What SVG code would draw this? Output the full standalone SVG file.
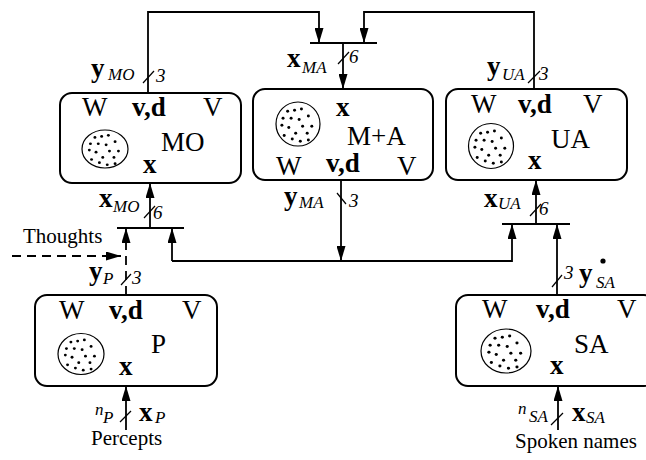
<svg xmlns="http://www.w3.org/2000/svg" xmlns:xlink="http://www.w3.org/1999/xlink" width="646" height="460" viewBox="0 0 646 460">
<style>
text{font-family:"Liberation Serif","Times New Roman",serif;fill:#000}
.box{fill:#fff;stroke:#000;stroke-width:2}
.cell{fill:none;stroke:#000;stroke-width:1.2}
.r{font-size:27px}
.b{font-size:27px;font-weight:bold}
.lb{font-size:27px;font-weight:bold}
.sub{font-size:17px;font-style:italic}
.num{font-size:19px;font-style:italic}
.cap{font-size:21px}
.ln{fill:none;stroke:#000;stroke-width:1.8}
.dash{stroke-dasharray:9 6}
.sl{stroke:#000;stroke-width:1.2}
</style>
<defs>
<marker id="ah" viewBox="0 0 15 9" refX="15" refY="4.5" markerWidth="15" markerHeight="9" markerUnits="userSpaceOnUse" orient="auto">
<path d="M0,0 L15,4.5 L0,9 z" fill="#000"/>
</marker>
<g id="dots" fill="#000">
<circle cx="-9" cy="-11" r="1.3"/><circle cx="-3" cy="-12" r="1.3"/><circle cx="3" cy="-13" r="1.3"/>
<circle cx="-13" cy="-5" r="1.3"/><circle cx="-6" cy="-5" r="1.3"/><circle cx="1" cy="-4" r="1.3"/>
<circle cx="9" cy="-7" r="1.3"/><circle cx="-14" cy="1" r="1.3"/><circle cx="-8" cy="3" r="1.3"/>
<circle cx="12" cy="2" r="1.3"/><circle cx="4" cy="2" r="1.3"/><circle cx="-2" cy="8" r="1.3"/>
<circle cx="8" cy="8" r="1.3"/><circle cx="-12" cy="10" r="1.3"/><circle cx="-5" cy="13" r="1.3"/>
<circle cx="2" cy="15" r="1.3"/><circle cx="9" cy="14" r="1.3"/>
</g>
</defs>

<g id="connectors">
<path class="ln" d="M148,93 V12 H319 V43" marker-end="url(#ah)"/>
<path class="ln" d="M534,90 V12 H364 V43" marker-end="url(#ah)"/>
<line class="ln" x1="310" y1="43" x2="377" y2="43"/>
<path class="ln" d="M343,43 V89" marker-end="url(#ah)"/>
<line class="ln" x1="117" y1="228" x2="184" y2="228"/>
<path class="ln" d="M150,228 V183" marker-end="url(#ah)"/>
<path class="ln dash" d="M126,295 V228" marker-end="url(#ah)"/>
<path class="ln dash" d="M12,256 H121" marker-end="url(#ah)"/>
<path class="ln" d="M172,261 H512 V224" marker-end="url(#ah)"/>
<path class="ln" d="M172,261 V228" marker-end="url(#ah)"/>
<path class="ln" d="M341,180 V261" marker-end="url(#ah)"/>
<line class="ln" x1="502" y1="224" x2="570" y2="224"/>
<path class="ln" d="M536,224 V180" marker-end="url(#ah)"/>
<path class="ln" d="M557,295 V224" marker-end="url(#ah)"/>
<path class="ln" d="M126,430 V386" marker-end="url(#ah)"/>
<path class="ln" d="M558,430 V386" marker-end="url(#ah)"/>
<line class="sl" x1="143" y1="83" x2="154" y2="71"/>
<line class="sl" x1="338" y1="64" x2="349" y2="52"/>
<line class="sl" x1="337" y1="193" x2="346" y2="204"/>
<line class="sl" x1="528" y1="83" x2="540" y2="71"/>
<line class="sl" x1="144" y1="218" x2="155" y2="206"/>
<line class="sl" x1="530" y1="216" x2="541" y2="204"/>
<line class="sl" x1="121" y1="285" x2="131" y2="274"/>
<line class="sl" x1="552" y1="287" x2="562" y2="275"/>
<line class="sl" x1="120" y1="422" x2="131" y2="411"/>
<line class="sl" x1="551" y1="425" x2="563" y2="413"/>
</g>

<g id="labels">
<text><tspan class="lb" x="91" y="77">y</tspan><tspan class="sub" x="108" y="80">MO</tspan></text>
<text class="num" x="156" y="82">3</text>
<text><tspan class="lb" x="287" y="67">x</tspan><tspan class="sub" x="302" y="73">MA</tspan></text>
<text class="num" x="349" y="63">6</text>
<text><tspan class="lb" x="284" y="205">y</tspan><tspan class="sub" x="299" y="208">MA</tspan></text>
<text class="num" x="349" y="207">3</text>
<text><tspan class="lb" x="487" y="75">y</tspan><tspan class="sub" x="502" y="80">UA</tspan></text>
<text class="num" x="539" y="80">3</text>
<text><tspan class="lb" x="99" y="207">x</tspan><tspan class="sub" x="113" y="212">MO</tspan></text>
<text class="num" x="153" y="219">6</text>
<text><tspan class="lb" x="484" y="207">x</tspan><tspan class="sub" x="498" y="209">UA</tspan></text>
<text class="num" x="539" y="215">6</text>
<text class="cap" x="23" y="243">Thoughts</text>
<text><tspan class="lb" x="89" y="280">y</tspan><tspan class="sub" x="103" y="284">P</tspan></text>
<text class="num" x="132" y="284">3</text>
<text class="num" x="564" y="279">3</text>
<text><tspan class="lb" x="579" y="282">y</tspan><tspan class="sub" x="596" y="288">SA</tspan></text>
<circle cx="603" cy="261" r="2.6" fill="#000"/>
<text><tspan class="sub" x="95" y="415">n</tspan><tspan class="sub" x="103" y="423">P</tspan></text>
<text><tspan class="lb" x="139" y="421">x</tspan><tspan class="sub" x="155" y="423">P</tspan></text>
<text class="cap" x="91" y="445" font-size="22">Percepts</text>
<text><tspan class="sub" x="518" y="414">n</tspan><tspan class="sub" x="529" y="422">SA</tspan></text>
<text><tspan class="lb" x="572" y="421">x</tspan><tspan class="sub" x="586" y="423">SA</tspan></text>
<text class="cap" x="515" y="448">Spoken names</text>
</g>

<g id="MO">
<rect class="box" x="60" y="93" width="181" height="90" rx="12"/>
<text class="r" x="82" y="116">W</text>
<text class="b" x="132" y="116">v,d</text>
<text class="r" x="203" y="116">V</text>
<ellipse class="cell" cx="105" cy="149" rx="23" ry="19"/>
<use xlink:href="#dots" href="#dots" transform="translate(105,149) scale(1.12,1.05)"/>
<text class="r" x="161" y="151">MO</text>
<text class="b" x="143" y="173">x</text>
</g>

<g id="MA">
<rect class="box" x="253" y="89" width="180" height="91" rx="12"/>
<ellipse class="cell" cx="298" cy="124" rx="22" ry="22"/>
<use xlink:href="#dots" href="#dots" transform="translate(298,124) scale(1.15)"/>
<text class="b" x="336" y="116">x</text>
<text class="r" x="347" y="145">M+A</text>
<text class="r" x="276" y="175">W</text>
<text class="b" x="326" y="172">v,d</text>
<text class="r" x="397" y="175">V</text>
</g>

<g id="UA">
<rect class="box" x="446" y="89" width="181" height="91" rx="12"/>
<text class="r" x="471" y="113">W</text>
<text class="b" x="518" y="113">v,d</text>
<text class="r" x="583" y="113">V</text>
<ellipse class="cell" cx="491" cy="146" rx="22.5" ry="22.5"/>
<use xlink:href="#dots" href="#dots" transform="translate(491,146) scale(1.15)"/>
<text class="r" x="551" y="148">UA</text>
<text class="b" x="528" y="169">x</text>
</g>

<g id="P">
<rect class="box" x="35" y="295" width="182" height="91" rx="12"/>
<text class="r" x="59" y="319">W</text>
<text class="b" x="109" y="319">v,d</text>
<text class="r" x="182" y="319">V</text>
<ellipse class="cell" cx="81" cy="354" rx="23" ry="20.5"/>
<use xlink:href="#dots" href="#dots" transform="translate(81,354) scale(1.12,1.08)"/>
<text class="r" x="151" y="353">P</text>
<text class="b" x="119" y="375">x</text>
</g>

<g id="SA">
<rect class="box" x="456" y="295" width="200" height="91" rx="12"/>
<text class="r" x="482" y="318" font-size="29">W</text>
<text class="b" x="536" y="318" font-size="29">v,d</text>
<text class="r" x="617" y="318" font-size="29">V</text>
<ellipse class="cell" cx="506" cy="351" rx="25" ry="22"/>
<use xlink:href="#dots" href="#dots" transform="translate(506,351) scale(1.22,1.15)"/>
<text class="r" x="574" y="353" font-size="31">SA</text>
<text class="b" x="550" y="374" font-size="29">x</text>
</g>
</svg>
